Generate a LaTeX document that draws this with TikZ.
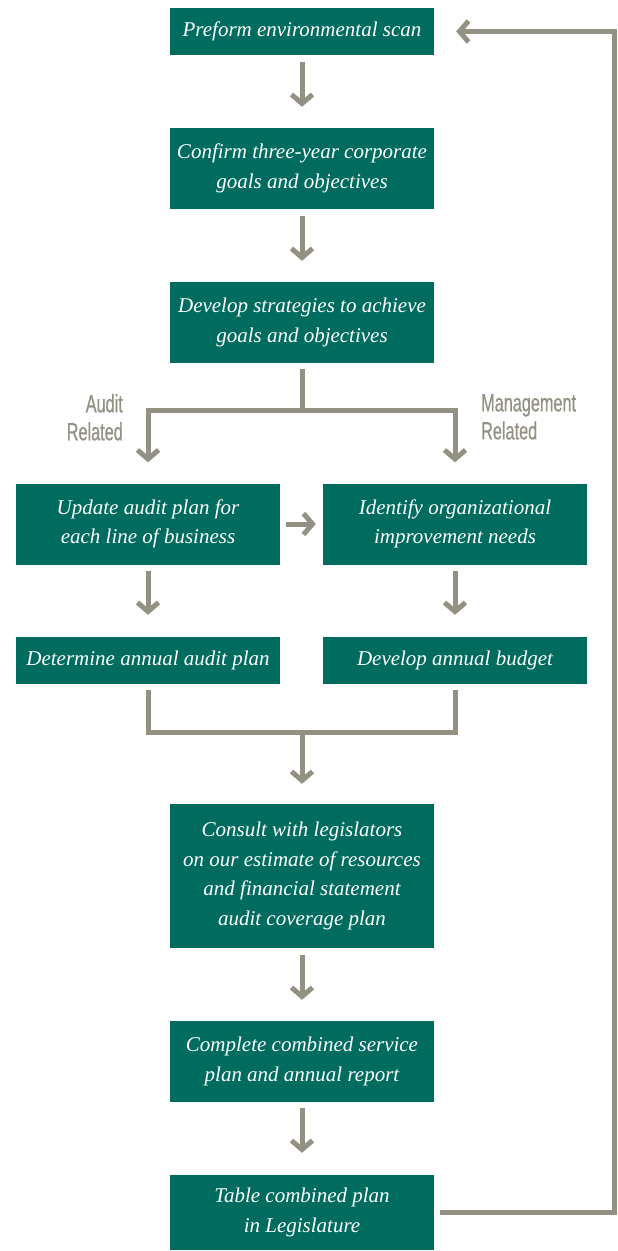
\documentclass[tikz,border=0pt]{standalone}
\usepackage{fontspec}
\usepackage{tikz}
\usetikzlibrary{arrows.meta}
\setmainfont{Liberation Serif}
\newfontfamily\labelfont[FakeStretch=0.65, FakeBold=0.6]{Liberation Sans}
\definecolor{boxteal}{HTML}{006B5F}
\definecolor{arrowgrey}{HTML}{939183}

\tikzset{
  stepbox/.style={fill=boxteal, text=white, minimum width=264, inner sep=0, align=center,
    font=\fontsize{21}{29.5}\selectfont\itshape},
  link/.style={draw=arrowgrey, line width=5},
  arr/.style={link, -{Straight Barb[length=9,width=21]}},
  sidelabel/.style={text=arrowgrey, inner sep=0, font=\labelfont\fontsize{25}{28}\selectfont}
}

\begin{document}
\begin{tikzpicture}[x=1pt, y=-1pt]
            \useasboundingbox (0, 0) rectangle (618, 1251);
            \node[stepbox, minimum height=47] (scan) at (302, 31.5) {Preform environmental scan};
            \node[stepbox, minimum height=81] (goals) at (302, 168.5) {Confirm three-year corporate\\goals and objectives};
            \node[stepbox, minimum height=81] (strat) at (302, 322.5) {Develop strategies to achieve\\goals and objectives};
            \node[stepbox, minimum height=81] (upd) at (148, 524) {Update audit plan for\\each line of business};
            \node[stepbox, minimum height=81] (ident) at (455, 524) {Identify organizational\\improvement needs};
            \node[stepbox, minimum height=47] (audplan) at (148, 660.5) {Determine annual audit plan};
            \node[stepbox, minimum height=47] (budget) at (455, 660.5) {Develop annual budget};
            \node[stepbox, minimum height=144] (consult) at (302, 876) {Consult with legislators\\on our estimate of resources\\and financial statement\\audit coverage plan};
            \node[stepbox, minimum height=81] (service) at (302, 1061.5) {Complete combined service\\plan and annual report};
            \node[stepbox, minimum height=75] (table) at (302, 1212.5) {Table combined plan\\in Legislature};
            % branch labels
            \node[sidelabel, align=right, anchor=north east] (auditlbl) at (123, 394) {Audit\\Related};
            \node[sidelabel, align=left, anchor=north west] (mgmtlbl) at (481, 394) {Management\\Related};
            \coordinate (split) at (302, 410.5);
            \coordinate (merge) at (302, 732.5);
            \coordinate (loopbr) at (614, 1212.5);
            \coordinate (looptr) at (614, 31.5);
            \draw[arr, shorten <=7, shorten >=21] (scan) -- (goals);
            \draw[arr, shorten <=7, shorten >=21] (goals) -- (strat);
            \draw[link, shorten <=6] (strat) -- (split);
            \draw[arr, shorten >=21] (split) -| (upd);
            \draw[arr, shorten >=21] (split) -| (ident);
            \draw[arr, shorten <=6, shorten >=7] (upd) -- (ident);
            \draw[arr, shorten <=6, shorten >=22] (upd) -- (audplan);
            \draw[arr, shorten <=6, shorten >=22] (ident) -- (budget);
            \draw[link, shorten <=6] (audplan) |- (merge);
            \draw[link, shorten <=6] (budget) |- (merge);
            \draw[arr, shorten >=20] (merge) -- (consult);
            \draw[arr, shorten <=7, shorten >=21] (consult) -- (service);
            \draw[arr, shorten <=6, shorten >=22] (service) -- (table);
            % back to the start
            \draw[arr, shorten <=6, shorten >=22] (table) -- (loopbr) -- (looptr) -- (scan);
        \end{tikzpicture}
\end{document}
